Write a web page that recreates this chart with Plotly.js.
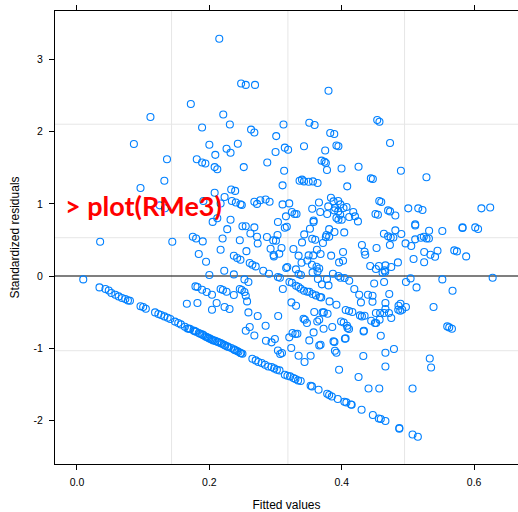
<!DOCTYPE html>
<html><head><meta charset="utf-8">
<script src="https://cdn.plot.ly/plotly-3.0.1.min.js"></script>
<style>html,body{margin:0;padding:0;background:#fff}</style>
</head><body><div id="chart" style="width:518px;height:512px"></div>
<script>
// Axis ticks
const xTickVals = [0, 0.2, 0.4, 0.6];
const xTickText = ['0.0', '0.2', '0.4', '0.6'];
const yTickVals = [-2, -1, 0, 1, 2, 3];
const yTickText = ['-2', '-1', '0', '1', '2', '3'];
// Reference grid lines (data units)
const gridX = [0.1429, 0.3187, 0.4949];
const gridY = [-1.036, 0.531, 2.105];

// [fitted value, standardized residual]
const lowerBand = [
 [0.034,-0.158],[0.043,-0.180],[0.048,-0.200],[0.052,-0.236],[0.058,-0.259],[0.063,-0.283],[0.068,-0.305],[0.073,-0.319],[0.077,-0.338],[0.080,-0.343],
 [0.096,-0.420],[0.100,-0.430],[0.104,-0.454],
 [0.118,-0.505],[0.123,-0.527],[0.127,-0.540],[0.132,-0.560],[0.137,-0.578],[0.141,-0.597],[0.148,-0.632],[0.153,-0.652],[0.157,-0.671],[0.163,-0.703],
 [0.167,-0.727],[0.169,-0.730],[0.171,-0.735],[0.176,-0.755],[0.178,-0.765],[0.180,-0.773],[0.184,-0.790],[0.186,-0.800],[0.189,-0.810],[0.191,-0.820],
 [0.194,-0.838],[0.196,-0.845],[0.198,-0.856],[0.200,-0.865],[0.202,-0.874],[0.204,-0.883],[0.206,-0.893],[0.209,-0.900],[0.212,-0.911],[0.214,-0.920],
 [0.217,-0.930],[0.219,-0.940],[0.222,-0.953],[0.224,-0.965],[0.227,-0.976],[0.229,-0.985],[0.233,-0.999],[0.237,-1.018],[0.239,-1.028],[0.242,-1.040],
 [0.244,-1.052],[0.247,-1.068],[0.248,-1.072],[0.250,-1.078],
 [0.265,-1.147],[0.270,-1.170],[0.274,-1.193],[0.279,-1.207],[0.284,-1.230],[0.289,-1.254],[0.294,-1.262],[0.298,-1.281],[0.302,-1.300],[0.306,-1.309],
 [0.314,-1.369],[0.318,-1.383],[0.322,-1.392],[0.327,-1.415],[0.330,-1.429],[0.334,-1.448],[0.338,-1.456],
 [0.353,-1.521],[0.355,-1.531],[0.365,-1.577],[0.378,-1.632],[0.381,-1.650],[0.385,-1.670],[0.394,-1.706],[0.404,-1.743],[0.407,-1.753],[0.414,-1.781],
 [0.415,-1.785],[0.430,-1.854],[0.447,-1.928],[0.456,-1.975],[0.459,-1.983],[0.466,-2.011],[0.487,-2.108],[0.487,-2.118],[0.507,-2.197],[0.515,-2.229]
];

const leftPoints = [
 [0.0095,-0.047],[0.035,0.475],[0.086,1.83],[0.111,2.205],[0.096,1.22],[0.136,1.62],[0.132,1.32],[0.125,0.98],[0.133,0.94],[0.144,0.475],
 [0.172,2.385],[0.175,0.545],[0.180,0.52],[0.166,-0.384]
];

const midHigh = [
 [0.215,3.29],[0.248,2.67],[0.255,2.65],[0.269,2.65],[0.221,2.24],[0.231,2.10],[0.189,2.06],[0.263,2.03],[0.268,1.99],[0.200,1.82],
 [0.243,1.835],[0.226,1.765],[0.232,1.71],[0.209,1.68],[0.181,1.62],[0.189,1.575],[0.194,1.56],[0.252,1.51],[0.208,1.51],[0.212,1.48],
 [0.208,1.155],[0.233,1.20],[0.239,1.18],[0.223,1.095],[0.234,1.04],[0.240,1.02],[0.247,0.995],[0.249,0.985],[0.268,1.03],[0.272,1.00],
 [0.217,1.005],[0.191,1.04],[0.212,0.80],[0.205,0.75],[0.232,0.78],[0.227,0.65],[0.250,0.69],[0.255,0.69],[0.268,0.675],[0.262,0.59],
 [0.272,0.545],[0.220,0.52],[0.246,0.495],[0.217,0.365],[0.190,0.48],[0.256,0.345],[0.184,0.305],[0.273,0.45]
];

const midLow = [
 [0.237,0.28],[0.242,0.25],[0.247,0.226],[0.261,0.18],[0.265,0.157],[0.270,0.133],[0.200,0.014],[0.2225,0.073],[0.237,0.022],[0.195,0.198],
 [0.253,-0.047],[0.259,-0.083],[0.179,-0.144],[0.182,-0.153],[0.189,-0.19],[0.196,-0.222],[0.204,-0.26],[0.217,-0.18],[0.2205,-0.194],[0.226,-0.218],
 [0.237,-0.264],[0.246,-0.18],[0.249,-0.194],[0.253,-0.222],[0.255,-0.273],[0.257,-0.352],[0.182,-0.375],[0.204,-0.467],[0.211,-0.375],[0.223,-0.43],
 [0.2305,-0.458],[0.259,-0.505],[0.273,-0.555],[0.261,-0.707],[0.255,-0.759],[0.268,-0.824]
];

const rightHigh = [
 [0.312,2.10],[0.301,1.94],[0.314,1.78],[0.319,1.75],[0.300,1.72],[0.2875,1.575],[0.313,1.46],
 [0.380,2.57],[0.4536,2.164],[0.457,2.14],[0.351,2.126],[0.359,2.094],[0.3826,1.983],[0.3887,1.969],[0.343,1.80],[0.392,1.81],[0.395,1.80],
 [0.473,1.845],[0.375,1.74],[0.3695,1.60],[0.374,1.585],[0.376,1.567],[0.3777,1.47],[0.3997,1.49],[0.4254,1.516],[0.4894,1.46],[0.528,1.37],
 [0.444,1.354],[0.447,1.345],[0.3106,1.257],
 [0.3363,1.322],[0.340,1.336],[0.343,1.312],[0.350,1.308],[0.3565,1.312],[0.3635,1.29],[0.4083,1.243],
 [0.277,1.05],[0.285,1.062],[0.291,1.03],[0.3106,0.993],[0.3207,1.007],[0.3837,1.086],[0.3947,1.04],[0.398,0.993],[0.3656,1.02],[0.3554,0.933],
 [0.4567,1.04],[0.4597,1.026],[0.3796,0.965],[0.3887,0.91],[0.3947,0.896],[0.4073,0.957],[0.4174,0.888],[0.3675,0.888],[0.3248,0.888],[0.3287,0.86],
 [0.3317,0.86],[0.3157,0.827],[0.378,0.86],[0.392,0.804],[0.395,0.78],[0.400,0.78],[0.470,0.91],[0.473,0.896],[0.481,0.84],[0.451,0.86],
 [0.4547,0.85],[0.5005,0.938],[0.5156,0.938],[0.522,0.915],[0.611,0.938],[0.6243,0.951],
 [0.3876,1.035],[0.4027,0.943],[0.3977,0.85],[0.420,0.827],[0.3902,0.943],
 [0.3036,0.749],[0.4113,0.818],[0.4245,0.757],[0.317,0.684],[0.314,0.67],[0.3575,0.77],[0.3575,0.75],[0.352,0.656],[0.381,0.65],[0.377,0.569],
 [0.389,0.61],[0.3433,0.577],[0.4038,0.605],[0.4637,0.587],[0.470,0.55],[0.474,0.535],[0.478,0.535],[0.481,0.633],[0.490,0.583],[0.511,0.716],
 [0.511,0.70],[0.532,0.628],[0.552,0.624],[0.5825,0.674],[0.5825,0.666],[0.6017,0.674],[0.606,0.652],
 [0.511,0.508],[0.5196,0.531],[0.524,0.545],[0.528,0.521],[0.5317,0.521],[0.4964,0.452],[0.505,0.416],
 [0.287,0.541],[0.2965,0.494],[0.3006,0.49],[0.303,0.569],[0.340,0.466],[0.3554,0.517],[0.360,0.503],[0.3716,0.458],[0.376,0.541],[0.381,0.545],
 [0.402,0.333],[0.4305,0.43],[0.4345,0.337],[0.4355,0.295],[0.4526,0.388],[0.4728,0.43],[0.5246,0.333],[0.534,0.295],[0.541,0.268],[0.5447,0.351],
 [0.570,0.355],[0.574,0.341],[0.588,0.272],
 [0.2925,0.379],[0.297,0.291],[0.3056,0.309],[0.309,0.388],[0.2975,0.272],[0.327,0.374],[0.3348,0.282],[0.350,0.286],[0.3625,0.365],[0.368,0.305],
 [0.357,0.286],[0.384,0.282],[0.5245,0.19],[0.5085,0.236]
];

const rightLow = [
 [0.2814,0.073],[0.290,0.032],[0.3036,-0.014],[0.3066,-0.024],[0.316,0.111],[0.3177,0.125],[0.3308,0.092],[0.3348,0.028],[0.3384,0.014],[0.3393,0.184],
 [0.348,0.216],[0.355,0.157],[0.356,0.05],[0.362,0.129],[0.3635,0.064],[0.366,0.105],[0.364,-0.042],[0.370,-0.116],[0.380,-0.13],[0.3777,-0.042],
 [0.3867,0.032],[0.395,0.0],[0.398,-0.024],[0.396,0.189],[0.402,0.212],[0.4043,-0.028],[0.4113,-0.065],[0.419,-0.18],
 [0.443,0.139],[0.4516,0.097],[0.4562,0.139],[0.466,0.147],[0.4617,0.046],[0.4647,0.078],[0.4657,0.06],[0.4748,0.125],[0.4849,0.189],
 [0.449,-0.103],[0.464,-0.083],[0.4396,-0.26],[0.4465,-0.273],[0.4718,-0.25],[0.4465,-0.356],[0.466,-0.375],[0.466,-0.458],[0.464,-0.513],[0.458,-0.513],
 [0.4516,-0.513],[0.4501,-0.652],[0.4572,-0.606],[0.4748,-0.583],[0.4713,-0.513],[0.4854,-0.467],[0.4888,-0.384],[0.4914,-0.467],[0.4884,-0.481],
 [0.4858,-0.412],[0.497,-0.43],
 [0.497,-0.083],[0.504,-0.033],[0.513,-0.158],[0.552,-0.047],[0.5674,-0.204],[0.5387,-0.43],[0.628,-0.024],
 [0.5594,-0.699],[0.5624,-0.713],[0.5665,-0.731],
 [0.4789,-1.012],[0.466,-1.064],[0.466,-1.254],[0.533,-1.143],[0.535,-1.268],[0.507,-1.559],[0.4405,-1.559],[0.4567,-1.559],[0.4254,-1.40],[0.4326,-1.11],
 [0.396,-1.30],[0.3897,-1.036],[0.392,-1.064],[0.3876,-0.907],[0.4048,-0.87],[0.433,-0.768],[0.459,-0.828],
 [0.324,-0.366],[0.331,-0.412],[0.304,-0.555],[0.285,-0.689],[0.2855,-0.897],[0.294,-0.92],[0.299,-0.874],[0.3036,-1.032],[0.307,-1.082],[0.3097,-1.068],
 [0.3237,-0.999],[0.3207,-0.851],[0.3257,-0.79],[0.330,-0.805],[0.333,-0.80],[0.3348,-1.105],[0.3438,-1.193],[0.353,-1.105],[0.3423,-0.592],[0.3443,-0.606],
 [0.3474,-0.652],[0.351,-0.893],[0.3575,-0.782],[0.3585,-0.499],[0.363,-0.63],[0.366,-0.606],[0.366,-0.963],[0.368,-0.953],[0.371,-0.505],[0.373,-0.505],
 [0.3786,-0.523],[0.3816,-0.352],[0.392,-0.398],[0.3857,-0.707],[0.389,-0.915],[0.399,-0.63],[0.403,-0.644],[0.406,-0.472],[0.411,-0.485],[0.416,-0.499],
 [0.4088,-0.721],[0.408,-0.689],[0.411,-0.735],[0.4058,-0.865],[0.4275,-0.546],[0.4305,-0.56],[0.4345,-0.551],[0.4335,-0.759],[0.429,-0.366],[0.4264,-0.26],
 [0.4445,-0.62],[0.452,-0.652],
 [0.321,-0.083],[0.3248,-0.093],[0.331,-0.135],[0.3348,-0.153],[0.338,-0.176],[0.343,-0.204],[0.348,-0.218],[0.351,-0.218],[0.3558,-0.25],[0.361,-0.269],
 [0.367,-0.291],[0.369,-0.297],[0.311,-0.18],[0.3726,-0.731]
];

const allPoints = [].concat(lowerBand, leftPoints, midHigh, midLow, rightHigh, rightLow);

const trace = {
  type: 'scatter', mode: 'markers',
  x: allPoints.map(p => p[0]),
  y: allPoints.map(p => p[1]),
  marker: {symbol: 'circle-open', size: 7, color: '#0080ff', line: {width: 1.1, color: '#0080ff'}},
  hoverinfo: 'skip', showlegend: false
};

const shapes = [];
gridX.forEach(v => shapes.push({type:'line', xref:'x', yref:'paper', x0:v, x1:v, y0:0, y1:1, layer:'below', line:{color:'#e6e6e6', width:1}}));
gridY.forEach(v => shapes.push({type:'line', xref:'paper', yref:'y', x0:0, x1:1, y0:v, y1:v, layer:'below', line:{color:'#e6e6e6', width:1}}));
shapes.push({type:'line', xref:'paper', yref:'y', x0:0, x1:1, y0:0, y1:0, layer:'below', line:{color:'#000000', width:1.2}});

const axisFont = {family: 'Liberation Sans, Arial, sans-serif', size: 10.5, color: '#000'};
const layout = {
  width: 518, height: 512,
  margin: {l: 55, r: 0, t: 11, b: 48},
  paper_bgcolor: '#ffffff', plot_bgcolor: '#ffffff',
  font: {family: 'Liberation Sans, Arial, sans-serif', color: '#000'},
  xaxis: {
    range: [-0.0332, 0.6663], showgrid: false, zeroline: false,
    showline: true, linecolor: '#000', linewidth: 1, mirror: 'ticks',
    ticks: 'outside', ticklen: 5, tickcolor: '#000', tickwidth: 1,
    tickvals: xTickVals, ticktext: xTickText, tickfont: axisFont, ticklabelstandoff: 3,
    title: {text: 'Fitted values', font: {family: 'Liberation Sans, Arial, sans-serif', size: 12, color: '#000'}, standoff: 16}
  },
  yaxis: {
    range: [-2.607, 3.675], showgrid: false, zeroline: false,
    showline: true, linecolor: '#000', linewidth: 1, mirror: false,
    ticks: 'outside', ticklen: 5, tickcolor: '#000', tickwidth: 1,
    tickvals: yTickVals, ticktext: yTickText, tickfont: axisFont, ticklabelstandoff: 4,
    title: {text: 'Standardized residuals', font: {family: 'Liberation Sans, Arial, sans-serif', size: 12, color: '#000'}, standoff: 11}
  },
  shapes: shapes,
  annotations: [{
    xref: 'paper', yref: 'paper', x: 0.018, y: 0.57, xanchor: 'left', yanchor: 'middle',
    text: '&gt; plot(RMe3)', showarrow: false,
    font: {family: 'Lato, Open Sans, sans-serif', size: 27, color: '#ff0000', weight: 'bold'}
  }]
};

Plotly.newPlot('chart', [trace], layout, {displayModeBar: false, staticPlot: true});
</script>
</body></html>
